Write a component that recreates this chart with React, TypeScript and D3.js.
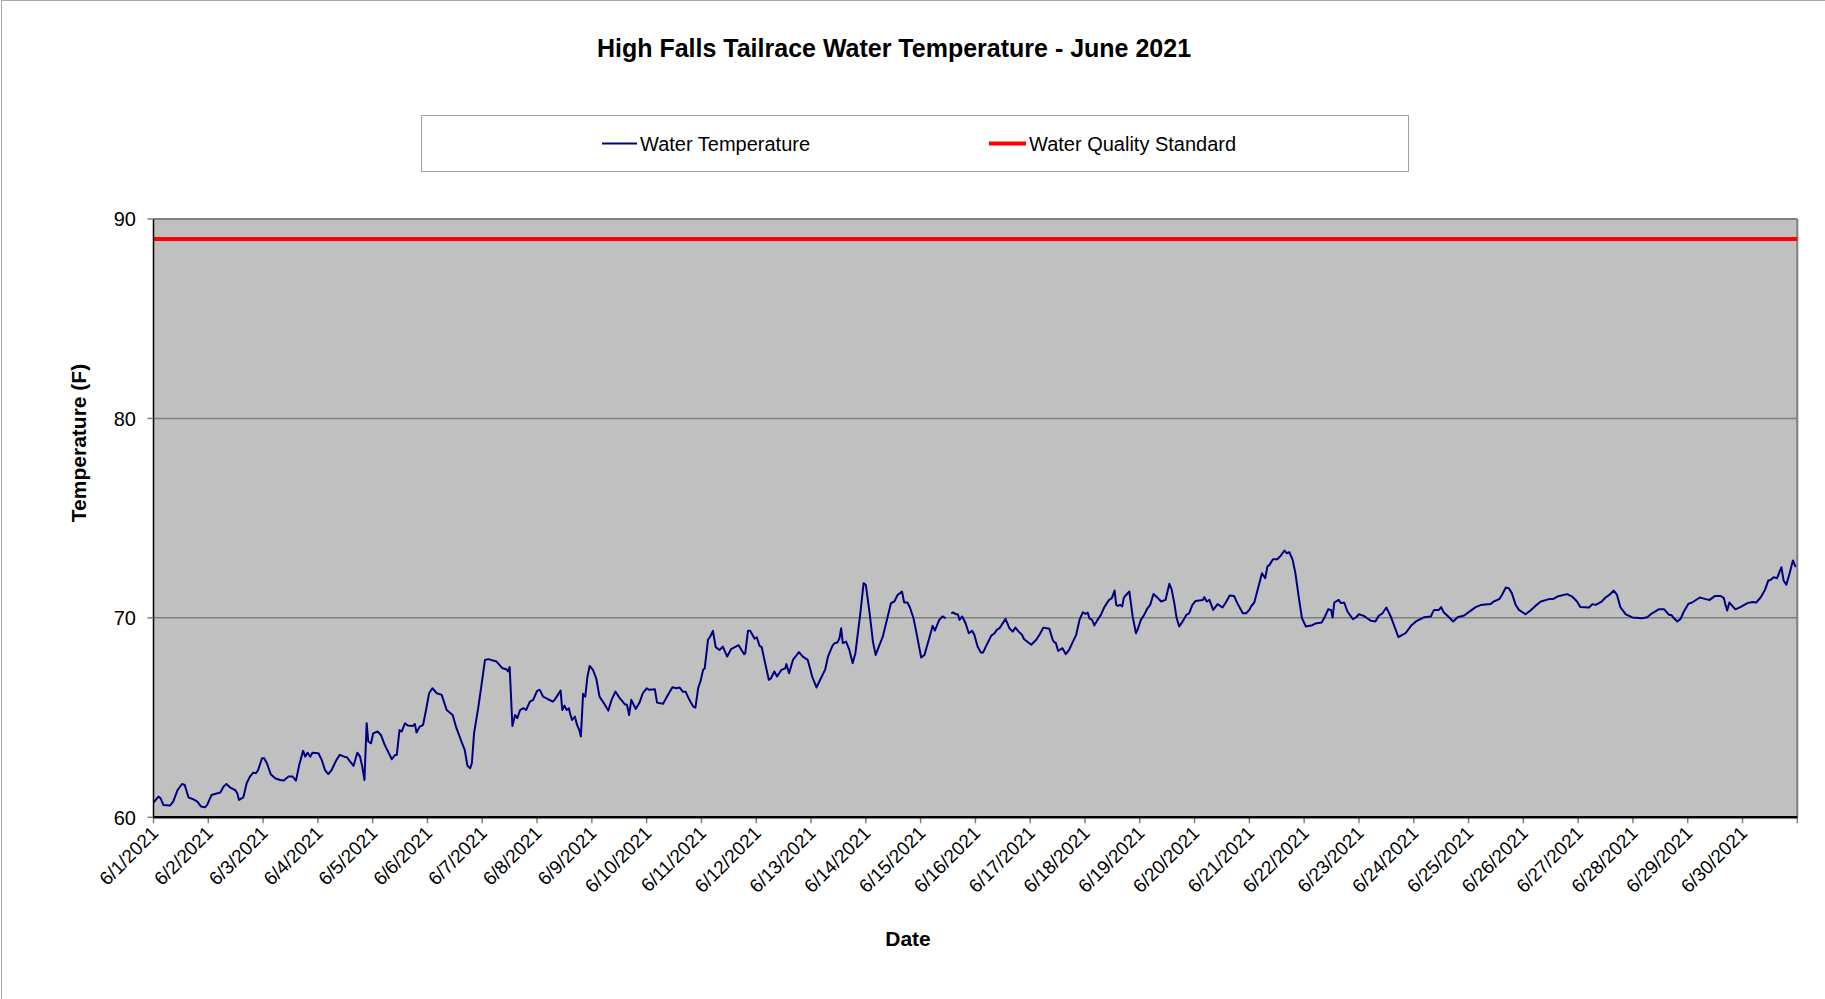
import React from 'react';
import * as d3 from 'd3';

// fractional days since 6/1/2021 00:00
const dayOffset = [
  0.00, 0.09, 0.13, 0.18, 0.30, 0.36, 0.44, 0.52, 0.57, 0.64, 0.73, 0.80, 0.87, 0.94, 0.98,
  1.06, 1.12, 1.22, 1.28, 1.33, 1.40, 1.49, 1.53, 1.56, 1.64, 1.70, 1.76, 1.82, 1.87, 1.91, 1.98,
  2.02, 2.07, 2.14, 2.22, 2.31, 2.38, 2.46, 2.54, 2.60, 2.66, 2.73, 2.77, 2.81, 2.86, 2.90,
  3.01, 3.07, 3.13, 3.19, 3.25, 3.34, 3.40, 3.48, 3.53, 3.59, 3.65, 3.72, 3.77, 3.81, 3.85, 3.89, 3.92, 3.97,
  4.01, 4.09, 4.15, 4.22, 4.35, 4.41, 4.44, 4.49, 4.53, 4.59, 4.64, 4.73, 4.77, 4.80, 4.86, 4.92, 4.98,
  5.03, 5.09, 5.17, 5.26, 5.35, 5.46, 5.52, 5.62, 5.68, 5.73, 5.78, 5.81, 5.85, 5.93, 5.99,
  6.05, 6.11, 6.26, 6.37, 6.44, 6.47, 6.50, 6.55, 6.60, 6.64, 6.69, 6.75, 6.80, 6.87, 6.93,
  7.00, 7.05, 7.11, 7.20, 7.29, 7.32, 7.43, 7.46, 7.50, 7.54, 7.58, 7.61, 7.64, 7.69, 7.73, 7.77, 7.80, 7.84, 7.88, 7.92, 7.96,
  8.02, 8.08, 8.14, 8.22, 8.30, 8.36, 8.43, 8.51, 8.60, 8.64, 8.68, 8.72, 8.80, 8.87, 8.93,
  9.00, 9.05, 9.15, 9.19, 9.30, 9.39, 9.47, 9.54, 9.60, 9.66, 9.71, 9.78, 9.85, 9.89, 9.94, 9.99,
  10.03, 10.06, 10.12, 10.16, 10.21, 10.26, 10.33, 10.39, 10.47, 10.54, 10.61, 10.68, 10.73, 10.78, 10.80, 10.85, 10.89, 10.97,
  11.01, 11.06, 11.10, 11.15, 11.23, 11.27, 11.33, 11.38, 11.46, 11.53, 11.55, 11.60, 11.67, 11.78, 11.85, 11.94, 11.99,
  12.02, 12.10, 12.16, 12.26, 12.31, 12.39, 12.43, 12.48, 12.52, 12.55, 12.58, 12.64, 12.70, 12.76, 12.81, 12.90, 12.96,
  13.00, 13.07, 13.13, 13.18, 13.25, 13.31, 13.40, 13.46, 13.52, 13.58, 13.66, 13.70, 13.76, 13.81, 13.87, 13.92,
  14.01, 14.07, 14.15, 14.22, 14.26, 14.34, 14.40, 14.46, 14.50, 14.56, 14.59, 14.65, 14.68, 14.71, 14.76, 14.82, 14.88, 14.94, 14.98,
  15.04, 15.10, 15.14, 15.19, 15.29, 15.35, 15.39, 15.44, 15.55, 15.62, 15.68, 15.73, 15.79, 15.85, 15.89,
  16.02, 16.11, 16.17, 16.24, 16.35, 16.41, 16.44, 16.47, 16.51, 16.59, 16.65, 16.71, 16.78, 16.84, 16.90, 16.96,
  17.01, 17.05, 17.08, 17.13, 17.17, 17.23, 17.29, 17.35, 17.40, 17.44, 17.49, 17.54, 17.57, 17.60, 17.64, 17.68, 17.71, 17.75, 17.81, 17.87, 17.93, 17.97,
  18.02, 18.08, 18.14, 18.19, 18.25, 18.32, 18.39, 18.47, 18.54, 18.58, 18.63, 18.67, 18.72, 18.80, 18.85, 18.90, 18.96,
  19.02, 19.15, 19.18, 19.22, 19.27, 19.34, 19.42, 19.51, 19.57, 19.64, 19.72, 19.78, 19.88, 19.94,
  20.00, 20.03, 20.09, 20.15, 20.23, 20.29, 20.33, 20.37, 20.43, 20.51, 20.57, 20.64, 20.68, 20.73, 20.79, 20.84, 20.90, 20.96,
  21.03, 21.15, 21.21, 21.32, 21.38, 21.44, 21.49, 21.52, 21.55, 21.63, 21.67, 21.73, 21.79, 21.89, 21.95,
  22.00, 22.09, 22.15, 22.22, 22.30, 22.36, 22.43, 22.50, 22.58, 22.66, 22.72, 22.79, 22.85, 22.95,
  23.04, 23.13, 23.19, 23.31, 23.37, 23.46, 23.50, 23.55, 23.63, 23.72, 23.80, 23.92,
  24.01, 24.13, 24.22, 24.40, 24.46, 24.56, 24.61, 24.68, 24.74, 24.79, 24.86, 24.92,
  25.04, 25.13, 25.22, 25.32, 25.47, 25.54, 25.62, 25.80, 25.89, 25.98,
  26.04, 26.20, 26.26, 26.32, 26.43, 26.50, 26.57, 26.65, 26.71, 26.77, 26.87, 26.99,
  27.17, 27.26, 27.35, 27.47, 27.57, 27.66, 27.70, 27.75, 27.81, 27.87, 27.93,
  28.01, 28.08, 28.22, 28.33, 28.40, 28.50, 28.60, 28.66, 28.69, 28.72, 28.76, 28.87, 28.96,
  29.09, 29.18, 29.25, 29.33, 29.41, 29.47, 29.51, 29.57, 29.63, 29.71, 29.75, 29.80, 29.86, 29.92, 29.97,
];

// water temperature (F); null = gap in the record
const tempF: (number | null)[] = [
  60.74, 61.04, 60.95, 60.62, 60.59, 60.79, 61.37, 61.67, 61.62, 60.99, 60.90, 60.79, 60.54, 60.50, 60.62,
  61.12, 61.17, 61.24, 61.54, 61.67, 61.49, 61.37, 61.20, 60.87, 61.00, 61.71, 62.04, 62.24, 62.21, 62.37, 62.96,
  62.96, 62.71, 62.16, 61.96, 61.87, 61.84, 62.04, 62.04, 61.84, 62.63, 63.33, 63.04, 63.24, 63.04, 63.24,
  63.21, 62.88, 62.37, 62.17, 62.37, 62.88, 63.13, 63.04, 63.01, 62.79, 62.58, 63.24, 63.04, 62.54, 61.87, 64.72, 63.80, 63.71,
  64.21, 64.30, 64.13, 63.63, 62.91, 63.13, 63.13, 64.38, 64.30, 64.72, 64.60, 64.58, 64.68, 64.25, 64.55, 64.63, 65.47,
  66.22, 66.47, 66.22, 66.14, 65.38, 65.13, 64.55, 63.80, 63.38, 62.58, 62.46, 62.71, 64.21, 65.55, 66.72,
  67.89, 67.93, 67.81, 67.47, 67.42, 67.31, 67.53, 64.58, 65.13, 64.97, 65.38, 65.47, 65.38, 65.80, 65.89,
  66.34, 66.39, 66.05, 65.92, 65.80, 65.89, 66.35, 65.38, 65.60, 65.38, 65.47, 65.13, 64.88, 65.05, 64.63, 64.38, 64.05, 66.19, 66.05, 67.06, 67.59,
  67.39, 66.97, 66.05, 65.72, 65.35, 65.89, 66.30, 65.97, 65.67, 65.64, 65.13, 65.89, 65.43, 65.75, 66.22,
  66.47, 66.39, 66.42, 65.75, 65.69, 66.14, 66.52, 66.47, 66.51, 66.30, 66.30, 65.89, 65.55, 65.50, 66.47, 66.89,
  67.39, 67.47, 68.90, 69.06, 69.35, 68.53, 68.39, 68.56, 68.06, 68.43, 68.53, 68.63, 68.39, 68.18, 68.23, 69.36, 69.36, 68.95,
  69.03, 68.60, 68.53, 67.89, 66.89, 66.97, 67.31, 67.06, 67.39, 67.47, 67.68, 67.22, 67.89, 68.28, 68.06, 67.89, 67.39,
  67.06, 66.51, 66.86, 67.42, 68.06, 68.60, 68.73, 68.76, 68.98, 69.48, 68.73, 68.81, 68.39, 67.73, 68.23, 70.23, 71.74,
  71.66, 70.23, 68.81, 68.14, 68.65, 69.06, 70.07, 70.74, 70.82, 71.15, 71.32, 70.77, 70.77, 70.48, 69.98, 69.31,
  68.01, 68.14, 68.90, 69.60, 69.36, 69.90, 70.07, 69.98, null, 70.23, 70.27, 70.18, 70.18, 69.90, 70.07, 69.73, 69.23, 69.35, 69.15,
  68.56, 68.26, 68.26, 68.56, 69.11, 69.23, 69.40, 69.48, 69.95, 69.48, 69.31, 69.51, 69.31, 69.15, 68.93,
  68.65, 68.90, 69.15, 69.51, 69.45, 68.90, 68.78, 68.73, 68.34, 68.48, 68.18, 68.39, 68.81, 69.15, 69.90, 70.28,
  70.20, 70.27, 69.98, 69.90, 69.62, 69.90, 70.15, 70.52, 70.74, 70.90, 70.99, 71.37, 70.65, 70.60, 70.65, 70.57, 71.02, 71.15, 71.32, 70.07, 69.23, 69.48,
  69.90, 70.15, 70.48, 70.65, 71.20, 71.02, 70.82, 70.90, 71.71, 71.44, 70.74, 70.02, 69.57, 69.90, 70.15, 70.23, 70.65,
  70.85, 70.90, 71.04, 70.82, 70.90, 70.40, 70.69, 70.52, 70.77, 71.12, 71.10, 70.74, 70.23, 70.23,
  70.40, 70.57, 70.77, 71.40, 72.24, 71.99, 72.58, 72.66, 72.94, 72.94, 73.11, 73.38, 73.24, 73.29, 72.91, 72.24, 71.07, 69.98,
  69.57, 69.63, 69.72, 69.77, 70.07, 70.43, 70.40, 70.02, 70.77, 70.90, 70.74, 70.77, 70.32, 69.93, 70.03,
  70.18, 70.10, 69.98, 69.85, 69.82, 70.10, 70.23, 70.52, 70.07, 69.48, 69.03, 69.15, 69.23, 69.60,
  69.82, 69.95, 70.03, 70.07, 70.40, 70.40, 70.54, 70.27, 70.07, 69.82, 70.03, 70.12,
  70.30, 70.54, 70.64, 70.69, 70.82, 70.94, 71.15, 71.52, 71.47, 71.24, 70.65, 70.40,
  70.18, 70.37, 70.60, 70.82, 70.94, 70.94, 71.07, 71.19, 71.07, 70.82,
  70.54, 70.52, 70.69, 70.65, 70.82, 71.02, 71.15, 71.37, 71.15, 70.54, 70.18, 70.02,
  69.98, 70.03, 70.23, 70.43, 70.43, 70.15, 70.15, 69.98, 69.82, 69.95, 70.32,
  70.70, 70.77, 71.02, 70.94, 70.90, 71.10, 71.10, 70.99, 70.65, 70.37, 70.77, 70.43, 70.54,
  70.74, 70.80, 70.77, 71.02, 71.40, 71.87, 71.90, 72.04, 71.99, 72.54, 71.87, 71.66, 72.24, 72.88, 72.54,
];

const standardF = 89;
const yTicks = [60, 70, 80, 90];
const gridValues = [70, 80];
const dayLabels = d3.range(1, 31).map((d) => `6/${d}/2021`);

const W = 1825;
const H = 999;
const FONT = '"Liberation Sans", Arial, sans-serif';

const start = new Date(2021, 5, 1);
const end = new Date(2021, 6, 1);
const toDate = (d: number) => new Date(start.getTime() + d * 86400000);

export default function App() {
  const x = d3.scaleTime().domain([start, end]).range([153.5, 1797.3]);
  const y = d3.scaleLinear().domain([60, 90]).range([817.3, 219]);

  const points = dayOffset.map((d, i) => ({ date: toDate(d), v: tempF[i] }));
  const line = d3
    .line<{ date: Date; v: number | null }>()
    .defined((p) => p.v != null)
    .x((p) => x(p.date))
    .y((p) => y(p.v as number));

  const tickDates = d3.timeDay.range(start, d3.timeDay.offset(end, 1));
  const [x0, x1] = x.range();
  const [yb, yt] = y.range();

  return (
    <div style={{ position: 'absolute', left: 0, top: 0 }}>
      <svg width={W} height={H} style={{ display: 'block', fontFamily: FONT }}>
        <rect x={0} y={0} width={W} height={H} fill="#fff" />
        <rect x={1.5} y={0.5} width={W + 10} height={H + 10} fill="none" stroke="#a6a6a6" strokeWidth={1} />

        <text x={894} y={57} textAnchor="middle" fontSize={25} fontWeight="bold">
          High Falls Tailrace Water Temperature - June 2021
        </text>

        {/* legend */}
        <rect x={421.5} y={115.5} width={987} height={56} fill="#fff" stroke="#a0a0a0" />
        <line x1={602} x2={637} y1={143.5} y2={143.5} stroke="#000080" strokeWidth={2} />
        <text x={640} y={150.5} fontSize={20}>Water Temperature</text>
        <line x1={989} x2={1026} y1={143.5} y2={143.5} stroke="#ff0000" strokeWidth={4} />
        <text x={1029} y={150.5} fontSize={20}>Water Quality Standard</text>

        {/* plot area */}
        <rect x={x0} y={yt} width={x1 - x0} height={yb - yt} fill="#c0c0c0" />
        {gridValues.map((g) => (
          <line key={g} x1={x0} x2={x1} y1={y(g)} y2={y(g)} stroke="#808080" strokeWidth={1.5} />
        ))}
        <line x1={x0} x2={x1} y1={yt} y2={yt} stroke="#808080" strokeWidth={2} />
        <line x1={x1} x2={x1} y1={yt} y2={yb} stroke="#808080" strokeWidth={2} />

        <line x1={x0} x2={x1} y1={y(standardF)} y2={y(standardF)} stroke="#ff0000" strokeWidth={4} />
        <path d={line(points) || ''} fill="none" stroke="#000080" strokeWidth={2} strokeLinejoin="round" />

        {/* y axis */}
        <line x1={x0} x2={x0} y1={yt} y2={yb} stroke="#000" strokeWidth={1.5} />
        {yTicks.map((t) => (
          <g key={t}>
            <line x1={x0 - 6} x2={x0} y1={y(t)} y2={y(t)} stroke="#808080" strokeWidth={1.5} />
            <text x={136} y={y(t)} dy="0.36em" textAnchor="end" fontSize={20}>{t}</text>
          </g>
        ))}

        {/* x axis */}
        {tickDates.map((t, i) => (
          <line key={i} x1={x(t)} x2={x(t)} y1={yb} y2={yb + 6} stroke="#808080" strokeWidth={1.5} />
        ))}
        <line x1={x0} x2={x1} y1={yb} y2={yb} stroke="#000" strokeWidth={2.5} />
        {dayLabels.map((lab, i) => (
          <text
            key={lab}
            transform={`translate(${x(tickDates[i]) + 6},${yb + 17}) rotate(-45)`}
            textAnchor="end"
            fontSize={19}
          >
            {lab}
          </text>
        ))}

        <text x={908} y={946} textAnchor="middle" fontSize={21} fontWeight="bold">Date</text>
        <text transform="translate(86,443) rotate(-90)" textAnchor="middle" fontSize={21} fontWeight="bold">
          Temperature (F)
        </text>
      </svg>
    </div>
  );
}
